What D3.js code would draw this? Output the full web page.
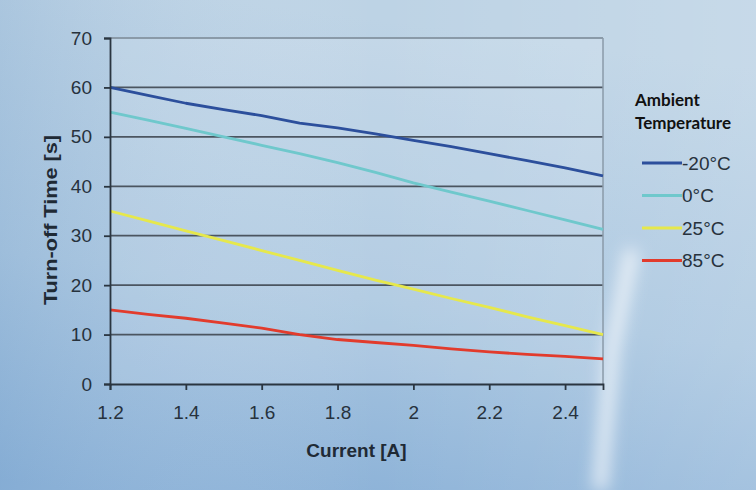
<!DOCTYPE html>
<html>
<head>
<meta charset="utf-8">
<script src="https://cdn.jsdelivr.net/npm/d3@7"></script>
<style>
  body { margin: 0; padding: 0; }
  svg { display: block; }
</style>
</head>
<body>
<div class="chart-container"></div>
<script>
// Data
const current = [1.2, 1.3, 1.4, 1.5, 1.6, 1.7, 1.8, 1.9, 2.0, 2.1, 2.2, 2.3, 2.4, 2.5];
const seriesNames = ["-20°C", "0°C", "25°C", "85°C"];
const seriesColors = ["#2c4f9c", "#6fc8cc", "#e6e84c", "#e23b2c"];
const tMinus20 = [60, 58.4, 56.8, 55.5, 54.3, 52.8, 51.8, 50.6, 49.3, 48, 46.6, 45.2, 43.7, 42.1];
const t0 = [55, 53.4, 51.7, 50, 48.3, 46.6, 44.8, 42.8, 40.7, 38.8, 37, 35.1, 33.2, 31.3];
const t25 = [35, 33, 31, 29, 27, 25, 23, 21, 19.2, 17.3, 15.5, 13.6, 11.8, 10];
const t85 = [15, 14.1, 13.3, 12.3, 11.3, 10, 9, 8.4, 7.8, 7.1, 6.5, 6, 5.6, 5.1];
const seriesValues = [tMinus20, t0, t25, t85];
const xTicks = [1.2, 1.4, 1.6, 1.8, 2, 2.2, 2.4];
const yTicks = [0, 10, 20, 30, 40, 50, 60, 70];

const W = 756, H = 490;
const margin = { top: 38, right: 153, bottom: 106, left: 110 };
const width = W - margin.left - margin.right;
const height = H - margin.top - margin.bottom;

const root = d3.select(".chart-container")
    .append("svg")
    .attr("width", W)
    .attr("height", H);

// Sky background
const defs = root.append("defs");
const sky = defs.append("linearGradient").attr("id", "sky")
    .attr("x1", 0.3).attr("y1", 0).attr("x2", 0.1).attr("y2", 1);
sky.append("stop").attr("offset", "0%").attr("stop-color", "#bdd3e5");
sky.append("stop").attr("offset", "55%").attr("stop-color", "#a9c6e0");
sky.append("stop").attr("offset", "100%").attr("stop-color", "#89b0d7");
const side = defs.append("linearGradient").attr("id", "side")
    .attr("x1", 0).attr("y1", 0).attr("x2", 1).attr("y2", 0);
side.append("stop").attr("offset", "0%").attr("stop-color", "#7aa3cc").attr("stop-opacity", 0.25);
side.append("stop").attr("offset", "50%").attr("stop-color", "#ffffff").attr("stop-opacity", 0);
side.append("stop").attr("offset", "100%").attr("stop-color", "#ffffff").attr("stop-opacity", 0.15);
const blur = defs.append("filter").attr("id", "blur")
    .attr("x", -2).attr("y", -1).attr("width", 5).attr("height", 3);
blur.append("feGaussianBlur").attr("stdDeviation", 8);

root.append("rect").attr("width", W).attr("height", H).attr("fill", "url(#sky)");
root.append("rect").attr("width", W).attr("height", H).attr("fill", "url(#side)");
// soft lightning glow on the right
root.append("path")
    .attr("d", "M632,250 L622,300 L612,350 L606,420 L600,490")
    .attr("fill", "none")
    .attr("stroke", "#ffffff")
    .attr("stroke-opacity", 0.7)
    .attr("stroke-width", 14)
    .attr("filter", "url(#blur)");

const svg = root.append("g")
    .attr("transform", `translate(${margin.left},${margin.top})`);

// Scales
const x = d3.scaleLinear().domain([1.2, 2.5]).range([0, width]);
const y = d3.scaleLinear().domain([0, 70]).range([height, 0]);

// Plot area
svg.append("rect")
    .attr("width", width)
    .attr("height", height)
    .attr("fill", "#ffffff")
    .attr("fill-opacity", 0.12);

// Grid lines
svg.selectAll(".grid")
    .data(yTicks.filter(d => d > 0))
    .enter()
    .append("line")
    .attr("class", "grid")
    .attr("x1", 0)
    .attr("x2", width)
    .attr("y1", d => y(d))
    .attr("y2", d => y(d))
    .attr("stroke", d => d === 70 ? "#8a9aa8" : "#4b5560")
    .attr("stroke-width", 1.8);

// right border
svg.append("line")
    .attr("x1", width).attr("x2", width)
    .attr("y1", 0).attr("y2", height)
    .attr("stroke", "#8a9aa8")
    .attr("stroke-width", 1.5);

// Lines
const line = d3.line()
    .x((d, i) => x(current[i]))
    .y(d => y(d));

svg.selectAll(".series")
    .data(seriesValues)
    .enter()
    .append("path")
    .attr("class", "series")
    .attr("d", d => line(d))
    .attr("fill", "none")
    .attr("stroke", (d, i) => seriesColors[i])
    .attr("stroke-width", 2.8)
    .attr("stroke-linejoin", "round");

// Axes
const xAxis = svg.append("g")
    .attr("transform", `translate(0,${height})`)
    .call(d3.axisBottom(x).tickValues(xTicks).tickSize(6).tickPadding(16).tickFormat(d3.format("")));
const yAxis = svg.append("g")
    .call(d3.axisLeft(y).tickValues(yTicks).tickSize(6).tickPadding(12));

[xAxis, yAxis].forEach(a => {
    a.select(".domain").attr("stroke", "#2a3540").attr("stroke-width", 1.8);
    a.selectAll(".tick line").attr("stroke", "#2a3540").attr("stroke-width", 1.8);
    a.selectAll("text")
        .attr("font-family", "'Liberation Sans', Arial, sans-serif")
        .attr("font-size", "19px")
        .attr("fill", "#27323d");
});

// Axis titles
svg.append("text")
    .attr("x", width / 2)
    .attr("y", 419)
    .attr("text-anchor", "middle")
    .attr("font-family", "'Liberation Sans', Arial, sans-serif")
    .attr("font-weight", "bold")
    .attr("font-size", "19px")
    .attr("fill", "#1f2a35")
    .text("Current [A]");

svg.append("text")
    .attr("transform", `translate(-53,${height / 2 + 9}) rotate(-90)`)
    .attr("text-anchor", "middle")
    .attr("font-family", "'Liberation Sans', Arial, sans-serif")
    .attr("font-weight", "bold")
    .attr("font-size", "18px")
    .attr("textLength", 170)
    .attr("lengthAdjust", "spacingAndGlyphs")
    .attr("fill", "#1f2a35")
    .text("Turn-off Time [s]");

// Legend
const legend = root.append("g").attr("transform", "translate(635,0)");
legend.append("text")
    .attr("x", 0).attr("y", 106)
    .attr("font-family", "Lato, 'Open Sans', sans-serif")
    .attr("font-weight", "bold")
    .attr("font-size", "17px")
    .attr("fill", "#111111")
    .text("Ambient");
legend.append("text")
    .attr("x", 0).attr("y", 129)
    .attr("font-family", "Lato, 'Open Sans', sans-serif")
    .attr("font-weight", "bold")
    .attr("font-size", "17px")
    .attr("fill", "#111111")
    .text("Temperature");

const items = legend.selectAll(".item")
    .data(seriesNames)
    .enter()
    .append("g")
    .attr("class", "item")
    .attr("transform", (d, i) => `translate(0,${163 + i * 32.5})`);
items.append("line")
    .attr("x1", 7).attr("x2", 47)
    .attr("stroke", (d, i) => seriesColors[i])
    .attr("stroke-width", 2.8);
items.append("text")
    .attr("x", 47)
    .attr("dy", "0.35em")
    .attr("font-family", "'Liberation Sans', Arial, sans-serif")
    .attr("font-size", "19px")
    .attr("fill", "#27323d")
    .text(d => d);
</script>
</body>
</html>
